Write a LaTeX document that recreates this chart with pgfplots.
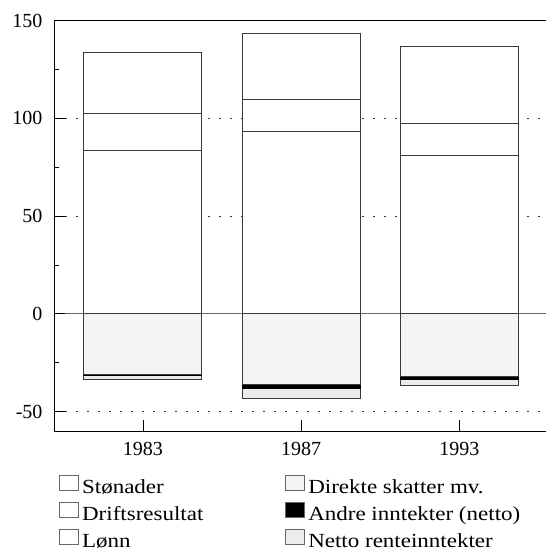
\documentclass[border=0pt]{standalone}
\usepackage{pgfplots}
\pgfplotsset{compat=1.18}
\usepackage{fontspec}
\setmainfont{Liberation Serif}
\newfontfamily\legfont{Liberation Serif}[FakeStretch=1.15]
\definecolor{dirgray}{HTML}{F4F4F4}
\definecolor{netgray}{HTML}{ECECEC}
\definecolor{edge}{HTML}{3A3A3A}

\begin{document}
\begin{tikzpicture}
\useasboundingbox (-54.3pt,-122pt) rectangle (491.7pt,431pt);
\begin{axis}[
  scale only axis,
  width=491.7pt, height=410.3pt,
  xmin=-0.5605, xmax=2.547,
  ymin=-60, ymax=150,
  axis x line=box, axis y line=left,
  x axis line style={-}, y axis line style={-},
  axis line style={line width=0.9pt, black},
  ybar stacked, bar width=118pt,
  xtick={0,1,2}, xticklabels={1983,1987,1993},
  xtick pos=lower,
  ytick={-50,0,50,100,150},
  yticklabels={-50,0,50,100,150},
  minor ytick={-25,25,75,125},
  ytick pos=left,
  tick align=inside,
  major tick length=11pt, minor tick length=5pt,
  tick style={black, line width=0.8pt},
  ymajorgrids,
  grid style={black!80, line width=0.8pt, dash pattern=on 2pt off 9pt},
  extra y ticks={0}, extra y tick labels={},
  extra y tick style={grid style={solid, black!60, line width=1pt}},
  tick label style={font=\fontsize{20}{24}\selectfont},
  xticklabel style={inner sep=0pt, anchor=north, yshift=-11pt},
  yticklabel style={inner sep=0pt, anchor=east, xshift=-11.6pt},
  legend columns=2,
  legend cell align=left,
  legend style={at={(rel axis cs:0,0)}, anchor=north west, xshift=5pt, yshift=-44pt,
    draw=none, fill=none, inner sep=0pt, outer sep=0pt,
    font=\legfont\fontsize{20}{24}\selectfont,
    nodes={inner sep=0pt, text height=14.5pt, text depth=1pt},
    row sep=7.5pt,
    /tikz/every even column/.append style={column sep=82pt},
    /tikz/every odd column/.append style={column sep=3pt}},
  legend image code/.code={\draw[#1,draw=black!60,line width=0.8pt] (0pt,-3pt) rectangle (19pt,11.5pt);},
]
% positive side: Lønn, Driftsresultat, Stønader
\addplot[forget plot, fill=white, draw=edge, line width=1pt] coordinates {(0,83.8) (1,93.3) (2,81.1)};
\addplot[forget plot, fill=white, draw=edge, line width=1pt] coordinates {(0,18.9) (1,16.5) (2,16.2)};
\addplot[forget plot, fill=white, draw=edge, line width=1pt] coordinates {(0,31.1) (1,33.5) (2,39.4)};
% negative side (stacked down from zero): Direkte skatter, Andre inntekter, Netto renteinntekter
\addplot[forget plot, fill=dirgray, draw=edge, line width=1pt] coordinates {(0,-31.1) (1,-36.1) (2,-32.1)};
\addplot[forget plot, fill=black, draw=black, line width=1pt] coordinates {(0,-0.3) (1,-2.1) (2,-1.4)};
\addplot[forget plot, fill=netgray, draw=edge, line width=1pt] coordinates {(0,-2.2) (1,-5.0) (2,-3.0)};

\addlegendimage{fill=white}\addlegendentry{Stønader}
\addlegendimage{fill=dirgray}\addlegendentry{Direkte skatter mv.}
\addlegendimage{fill=white}\addlegendentry{Driftsresultat}
\addlegendimage{fill=black}\addlegendentry{Andre inntekter (netto)}
\addlegendimage{fill=white}\addlegendentry{Lønn}
\addlegendimage{fill=netgray}\addlegendentry{Netto renteinntekter}
\end{axis}
\end{tikzpicture}
\end{document}
